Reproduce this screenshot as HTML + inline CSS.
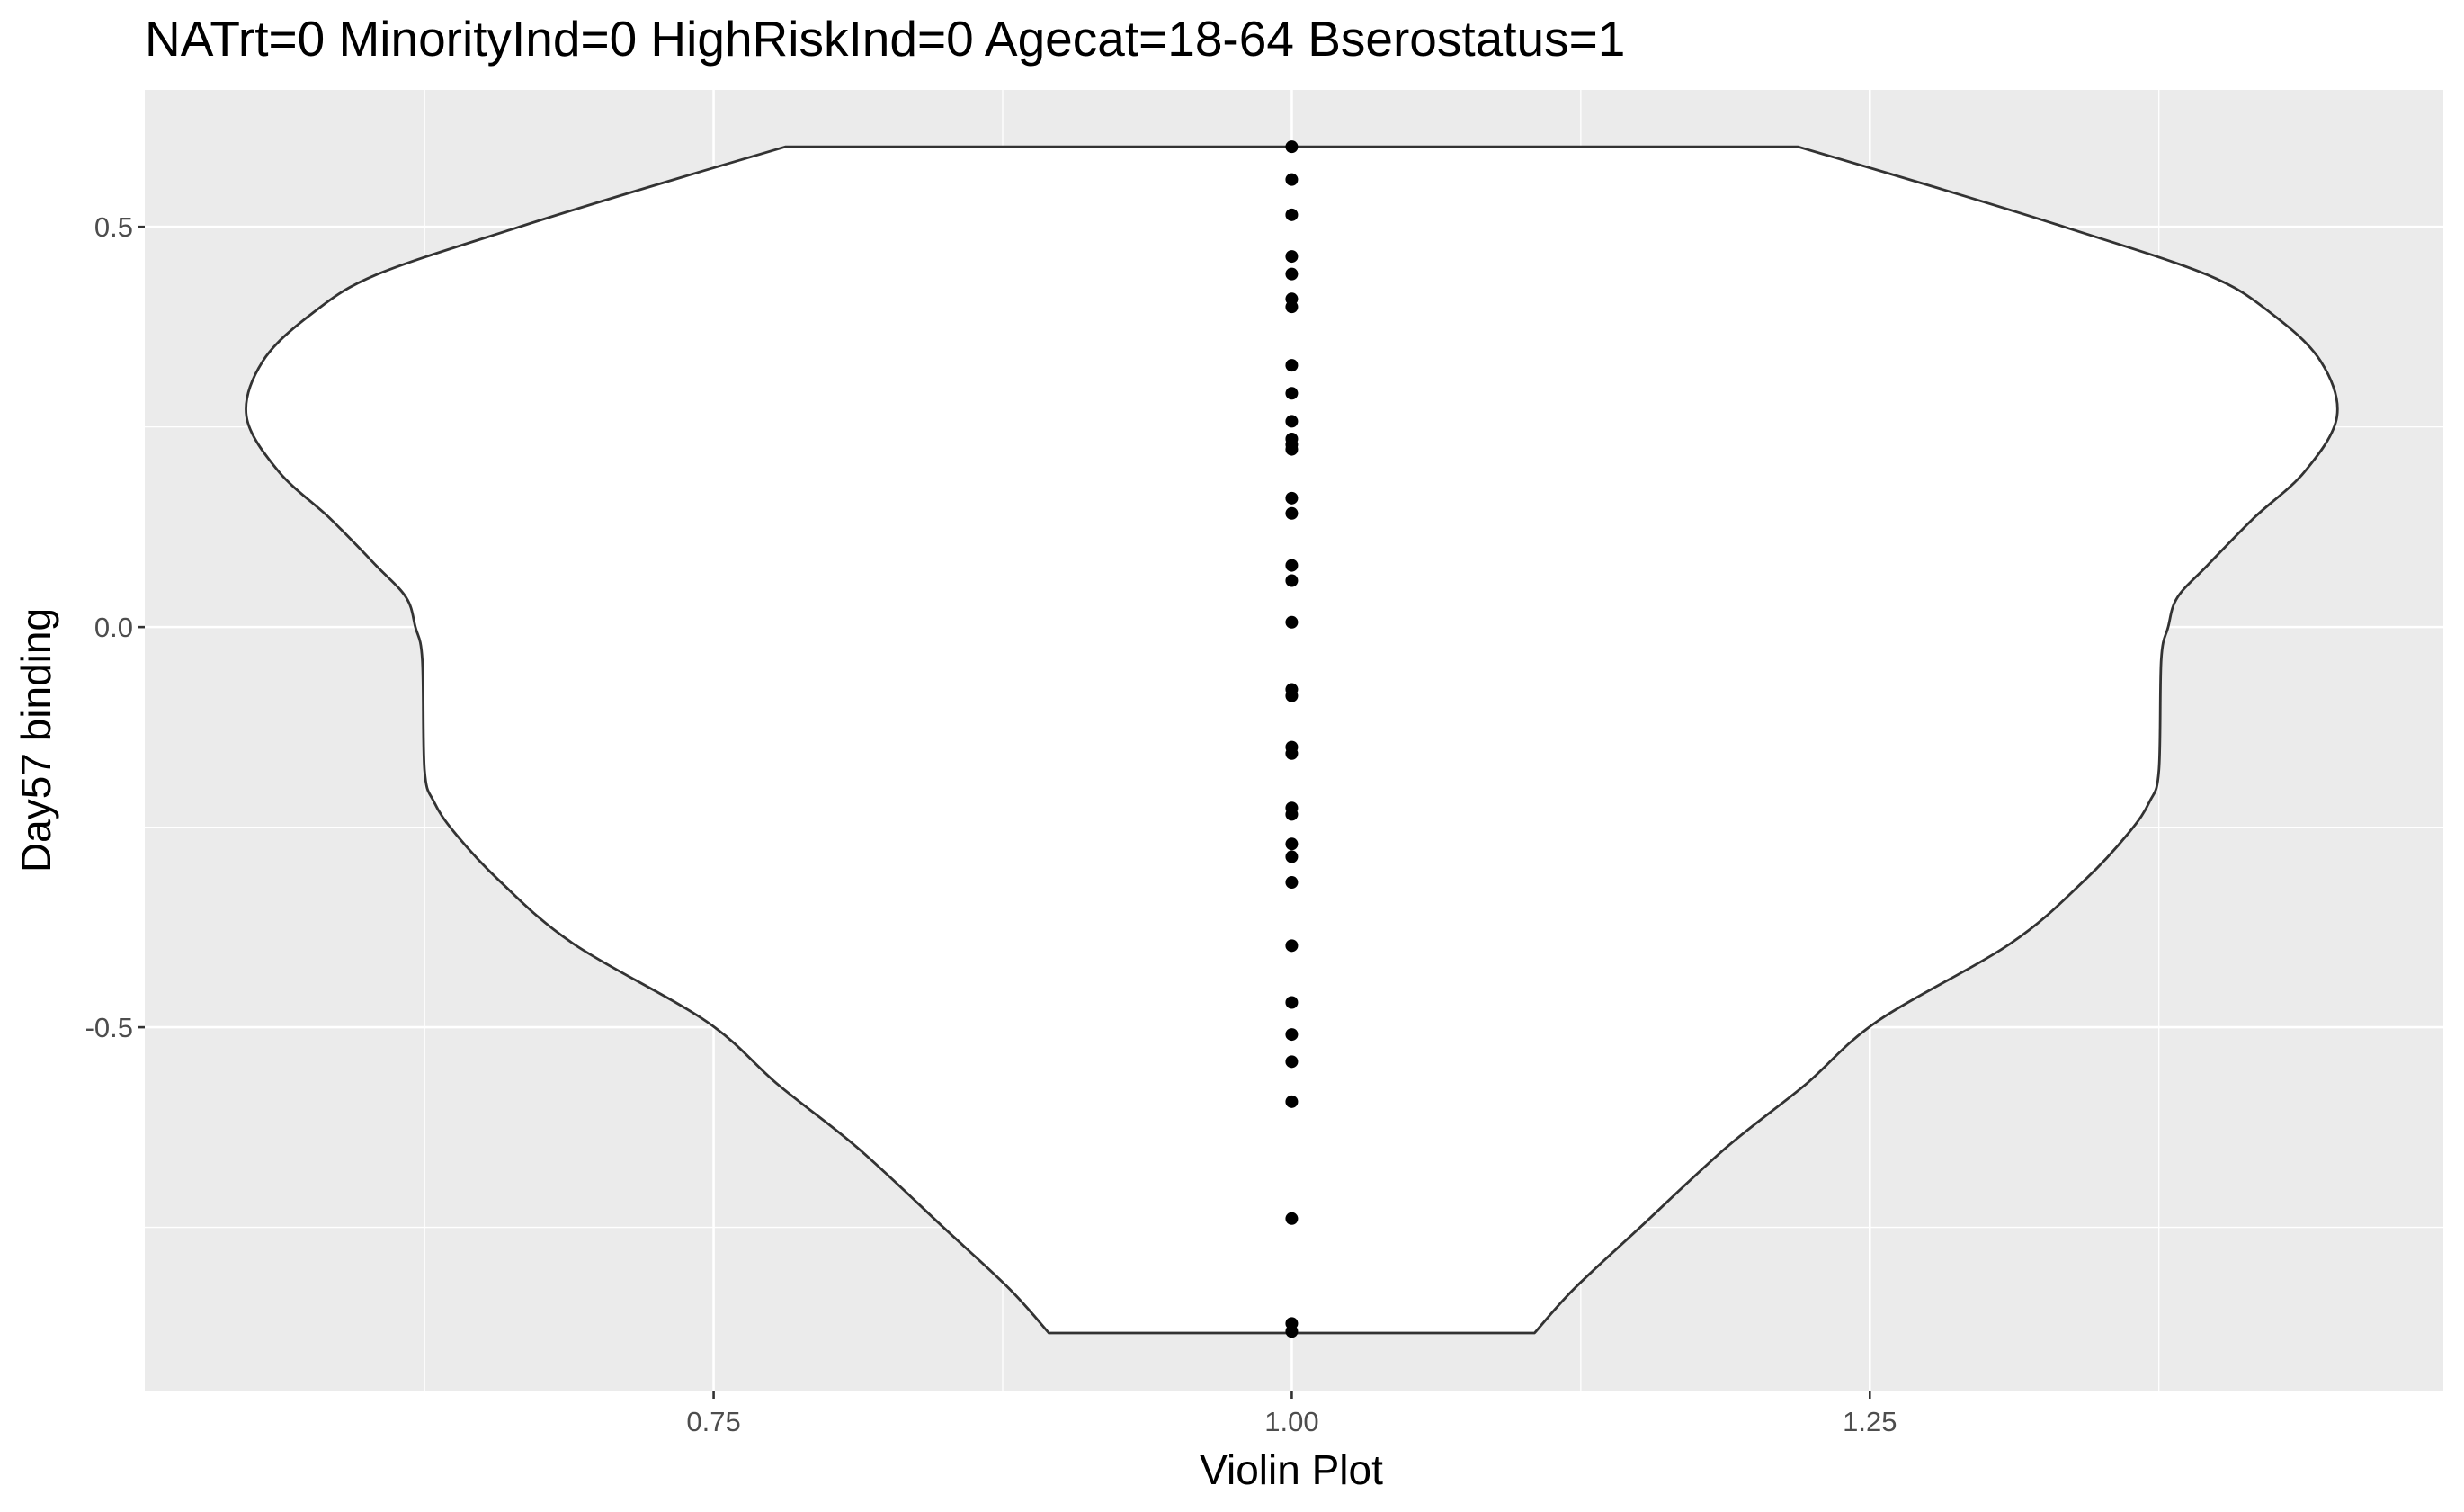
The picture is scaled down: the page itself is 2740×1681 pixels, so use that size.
<!DOCTYPE html>
<html><head><meta charset="utf-8"><style>
html,body{margin:0;padding:0;background:#fff;}
svg{display:block;font-family:"Liberation Sans",Arial,sans-serif;}
</style></head><body>
<svg id="chart" width="2740" height="1681" viewBox="0 0 2740 1681">
<text x="161" y="62" font-size="55" fill="#000">NATrt=0 MinorityInd=0 HighRiskInd=0 Agecat=18-64 Bserostatus=1</text>
<rect x="161" y="100" width="2556" height="1447" fill="#ebebeb"/>
<g id="grid"></g>
<g id="violin"></g>
<g id="points"></g>
<g id="axes"></g>
<text x="1436" y="1650" font-size="46" text-anchor="middle" fill="#000">Violin Plot</text>
<text transform="translate(56,823) rotate(-90)" font-size="46" text-anchor="middle" fill="#000">Day57 binding</text>
</svg>
<script>
const yTicks = [0.5, 0.0, -0.5];
const yTickLabels = ["0.5", "0.0", "-0.5"];
const yMinor = [0.25, -0.25, -0.75];
const xTicks = [0.75, 1.0, 1.25];
const xTickLabels = ["0.75", "1.00", "1.25"];
const xMinor = [0.625, 0.875, 1.125, 1.375];
const violinY = [0.60,0.548,0.499,0.440,0.391,0.332,0.263,0.194,0.136,0.077,0.037,0,-0.041,-0.179,-0.218,-0.257,-0.316,-0.395,-0.493,-0.572,-0.650,-0.749,-0.827,-0.882];
const violinHW = [0.219,0.280,0.335,0.396,0.424,0.445,0.452,0.438,0.416,0.396,0.383,0.379,0.376,0.375,0.371,0.362,0.343,0.311,0.253,0.222,0.188,0.151,0.122,0.105];
const pointValues = [0.600,0.559,0.515,0.463,0.441,0.41,0.40,0.327,0.292,0.257,0.235,0.228,0.222,0.161,0.142,0.077,0.058,0.006,-0.078,-0.086,-0.150,-0.158,-0.226,-0.234,-0.271,-0.287,-0.319,-0.398,-0.469,-0.509,-0.543,-0.593,-0.739,-0.870,-0.880];
const groupX = 1.0;

const X0=161,X1=2717,Y0=100,Y1=1547;
const xMin=0.504,xMax=1.498,yMin=-0.955,yMax=0.671;
const sx=v=>X0+(v-xMin)/(xMax-xMin)*(X1-X0);
const sy=v=>Y1-(v-yMin)/(yMax-yMin)*(Y1-Y0);
const NS="http://www.w3.org/2000/svg";
function mk(tag,attrs,parent){const e=document.createElementNS(NS,tag);for(const k in attrs)e.setAttribute(k,attrs[k]);parent.appendChild(e);return e;}
const grid=document.getElementById('grid'),axes=document.getElementById('axes');
yMinor.forEach(v=>{const l=mk('line',{x1:X0,x2:X1,y1:sy(v),y2:sy(v),stroke:'#fff','stroke-width':1.3},grid);

});
xMinor.forEach(v=>{const l=mk('line',{x1:sx(v),x2:sx(v),y1:Y0,y2:Y1,stroke:'#fff','stroke-width':1.3},grid);

});
yTicks.forEach((v,i)=>{const l=mk('line',{x1:X0,x2:X1,y1:sy(v),y2:sy(v),stroke:'#fff','stroke-width':2.6},grid);


const t=mk('line',{x1:X0-8,x2:X0,y1:sy(v),y2:sy(v),stroke:'#333','stroke-width':2.6},axes);


const tx=mk('text',{x:X0-13,y:sy(v)+11,'font-size':31,'text-anchor':'end',fill:'#4d4d4d'},axes);tx.textContent=yTickLabels[i];

});
xTicks.forEach((v,i)=>{const l=mk('line',{x1:sx(v),x2:sx(v),y1:Y0,y2:Y1,stroke:'#fff','stroke-width':2.6},grid);


const t=mk('line',{x1:sx(v),x2:sx(v),y1:Y1,y2:Y1+8,stroke:'#333','stroke-width':2.6},axes);


const tx=mk('text',{x:sx(v),y:Y1+44,'font-size':31,'text-anchor':'middle',fill:'#4d4d4d'},axes);tx.textContent=xTickLabels[i];

});
function smooth(p){let d='';for(let i=0;i<p.length-1;i++){const p0=p[Math.max(0,i-1)],p1=p[i],p2=p[i+1],p3=p[Math.min(p.length-1,i+2)];
const c1=[p1[0]+(p2[0]-p0[0])/6,p1[1]+(p2[1]-p0[1])/6],c2=[p2[0]-(p3[0]-p1[0])/6,p2[1]-(p3[1]-p1[1])/6];
d+=`C${c1[0].toFixed(1)},${c1[1].toFixed(1)} ${c2[0].toFixed(1)},${c2[1].toFixed(1)} ${p2[0].toFixed(1)},${p2[1].toFixed(1)}`;}return d;}
const right=violinY.map((v,i)=>[sx(groupX+violinHW[i]),sy(v)]);
const left=violinY.map((v,i)=>[sx(groupX-violinHW[i]),sy(v)]).reverse();
const d=`M${left[left.length-1][0]},${left[left.length-1][1]}L${right[0][0]},${right[0][1]}`+smooth(right)+`L${left[0][0]},${left[0][1]}`+smooth(left)+'Z';
const vp=mk('path',{d:d,fill:'#fff',stroke:'#333','stroke-width':2.8,'stroke-linejoin':'round'},document.getElementById('violin'));


const pg=document.getElementById('points');
pointValues.forEach(v=>{const c=mk('circle',{cx:sx(groupX),cy:sy(v),r:7,fill:'#000'},pg);

});
</script>
</body></html>
